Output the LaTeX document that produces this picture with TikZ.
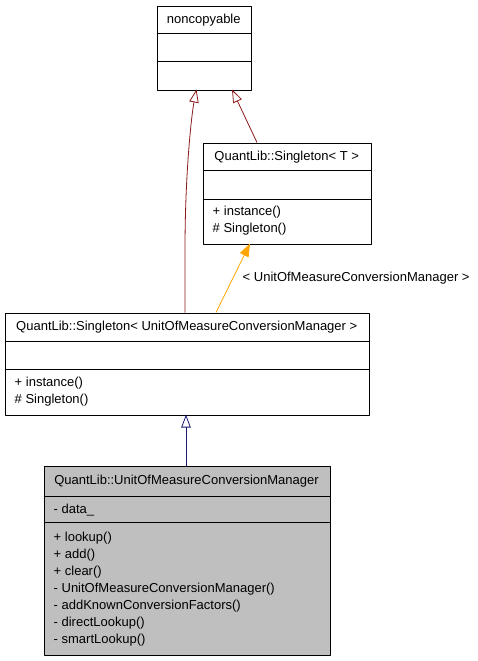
\documentclass[tikz,border=0pt]{standalone}
\usepackage{fontspec}
\setmainfont{Liberation Sans}
\usetikzlibrary{arrows.meta}
\definecolor{inhred}{HTML}{8B1A1A}
\definecolor{tmplorange}{HTML}{FFA500}
\definecolor{inhblue}{HTML}{191970}
\definecolor{curgray}{HTML}{BFBFBF}
\tikzset{
  classbox/.style={draw, line width=0.9pt, anchor=north west, inner sep=0pt},
  classtitle/.style={inner sep=0pt},
  members/.style={anchor=west, align=left, inner sep=0pt},
  inherits/.style={-{Triangle[open,length=13pt,width=9.5pt]}, line width=0.8pt},
}
\begin{document}
\begin{tikzpicture}[x=1pt, y=-1pt, line join=round, font=\fontsize{13}{17}\selectfont]
	\useasboundingbox (0,0) rectangle (477,661);
	% Lớp noncopyable
	\node[classbox, minimum width=94.5pt, minimum height=83.5pt] (noncopy) at (156.5,6) {};
	\draw[line width=0.9pt] (156.5,33.5) -- (251,33.5);
	\draw[line width=0.9pt] (156.5,61.5) -- (251,61.5);
	\node[classtitle] (noncopyname) at (203.75,20) {noncopyable};
	
	% Lớp Singleton< T >
	\node[classbox, minimum width=168.5pt, minimum height=101pt] (singT) at (202.5,142.5) {};
	\draw[line width=0.9pt] (202.5,170.5) -- (371,170.5);
	\draw[line width=0.9pt] (202.5,199) -- (371,199);
	\node[classtitle] (singTname) at (286.75,157) {QuantLib::Singleton< T >};
	\node[members] (singTops) at (212.5,220.5) {+ instance()\\\# Singleton()};
	
	% Lớp Singleton< UnitOfMeasureConversionManager >
	\node[classbox, minimum width=364.5pt, minimum height=102pt] (singU) at (4.5,312.5) {};
	\draw[line width=0.9pt] (4.5,341) -- (369,341);
	\draw[line width=0.9pt] (4.5,369.5) -- (369,369.5);
	\node[classtitle] (singUname) at (186.75,327) {QuantLib::Singleton< UnitOfMeasureConversionManager >};
	\node[members] (singUops) at (14.5,391.5) {+ instance()\\\# Singleton()};
	
	% Lớp UnitOfMeasureConversionManager
	\node[classbox, fill=curgray, minimum width=286pt, minimum height=189pt] (convmgr) at (43.5,466) {};
	\draw[line width=0.9pt] (43.5,496.5) -- (329.5,496.5);
	\draw[line width=0.9pt] (43.5,522.5) -- (329.5,522.5);
	\node[classtitle] (convmgrname) at (186.5,481.5) {QuantLib::UnitOfMeasureConversionManager};
	\node[members] (convmgrdata) at (53.5,510) {- data\_};
	\node[members] (convmgrops) at (53.5,589) {+ lookup()\\+ add()\\+ clear()\\- UnitOfMeasureConversionManager()\\- addKnownConversionFactors()\\- directLookup()\\- smartLookup()};
	
	% Các mũi tên
	\coordinate (midtop) at (185,312.5);
	\coordinate (noncopytipA) at (196.5,89.5);
	\coordinate (noncopytipB) at (232,89.5);
	\coordinate (singTtop) at (257,142.5);
	\coordinate (midtopB) at (216,312.5);
	\coordinate (singTtip) at (250,243.5);
	\coordinate (mgrtop) at (186,466);
	\coordinate (midbot) at (186,414.5);
	\draw[inherits, inhred] (midtop) -- (185,250) .. controls (185,170) and (192,112) .. (noncopytipA);
	\draw[inherits, inhred] (singTtop) -- (noncopytipB);
	\draw[-{Triangle[length=13pt,width=9.5pt]}, line width=0.8pt, tmplorange] (midtopB) -- (singTtip);
	\node[anchor=west, inner sep=0pt] (tmplarg) at (242.5,278) {< UnitOfMeasureConversionManager >};
	\draw[inherits, inhblue] (mgrtop) -- (midbot);
\end{tikzpicture}
\end{document}
